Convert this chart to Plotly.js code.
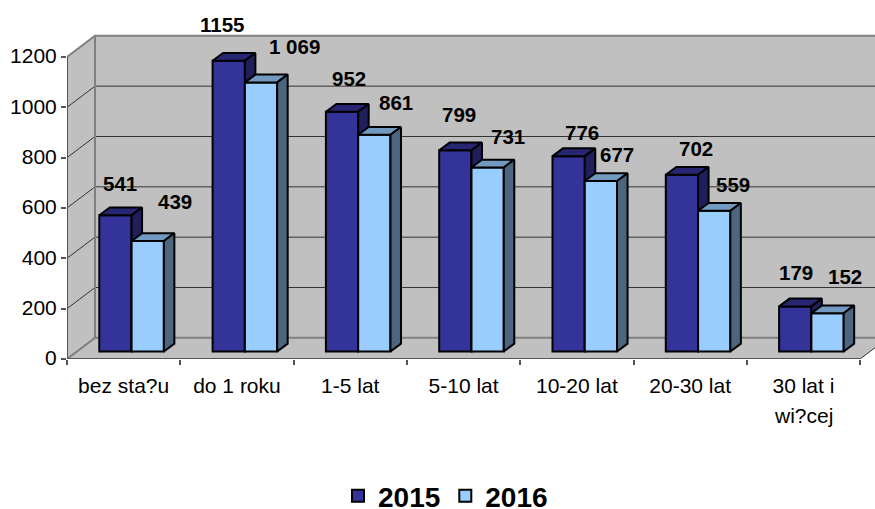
<!DOCTYPE html>
<html>
<head>
<meta charset="utf-8">
<script src="https://cdn.plot.ly/plotly-3.0.1.min.js"></script>
<style>html,body{margin:0;padding:0;background:#fff}#c{width:875px;height:509px}
.legend path.legendbar{d:path('M8,8H-8V-8H8Z')}</style>
</head>
<body>
<div id="c"></div>
<script>
// ---- data ----
const categories = ['bez sta?u', 'do 1 roku', '1-5 lat', '5-10 lat', '10-20 lat', '20-30 lat', '30 lat i'];
const categorySecondLine = 'wi?cej';
const values2015 = [541, 1155, 952, 799, 776, 702, 179];
const values2016 = [439, 1069, 861, 731, 677, 559, 152];
const labels2015 = ['541', '1155', '952', '799', '776', '702', '179'];
const labels2016 = ['439', '1 069', '861', '731', '677', '559', '152'];
const yTicks = [0, 200, 400, 600, 800, 1000, 1200];

// ---- pseudo-3D look (axis units) ----
const W = 875, H = 509, L = 67, B = 150;
const pxPerCat = 113.3, pxPerVal = 0.2517;
const plotH = H - B;
const xMax = (W - L) / pxPerCat, yMax = plotH / pxPerVal;
const wallDx = 28 / pxPerCat, wallDy = 84;
const barDx = 10.5 / pxPerCat, barDy = 31;
const barBase = 30, barW = 0.285, barStart = 0.285;
const nCat = categories.length;

// label offsets from the top-centre of each bar, px
const off2015 = [[5,32],[-7,36],[7,33],[4,36],[13,24],[14,26],[1,34]];
const off2016 = [[27,39],[33,36],[22,32],[20,31],[16,27],[19,26],[17,37]];

const COL = {wall:'#C0C0C0', edge:'#808080', grid:'#333333', axis:'#555555',
  f15:'#333399', t15:'#262673', s15:'#1F1F5C', f16:'#99CCFF', t16:'#7299BF', s16:'#4D6680'};

function poly(name, pts, fill, xa, ya){
  return {type:'scatter', mode:'lines', name, x:pts.map(p=>p[0]), y:pts.map(p=>p[1]),
    fill:'toself', fillcolor:fill, line:{width:0,color:fill}, hoverinfo:'skip', showlegend:false,
    xaxis:xa||'x', yaxis:ya||'y'};
}
function line(pts, color, width){
  return {type:'scatter', mode:'lines', x:pts.map(p=>p?p[0]:null), y:pts.map(p=>p?p[1]:null),
    line:{color, width}, hoverinfo:'skip', showlegend:false, xaxis:'x', yaxis:'y', connectgaps:false};
}
const xEnd = nCat, yTop = yTicks[yTicks.length-1];
const traces = [];
// walls and floor
traces.push(poly('back', [[wallDx,wallDy],[xMax+1,wallDy],[xMax+1,yTop+wallDy],[wallDx,yTop+wallDy],[wallDx,wallDy]], COL.wall));
traces.push(poly('side', [[0,0],[wallDx,wallDy],[wallDx,yTop+wallDy],[0,yTop],[0,0]], COL.wall));
traces.push(poly('floor', [[0,0],[xEnd,0],[xEnd+wallDx,wallDy],[wallDx,wallDy],[0,0]], COL.wall));
// gridlines
const gridPts = [];
yTicks.slice(1,-1).forEach(v=>{gridPts.push([0,v],[wallDx,v+wallDy],[xMax+1,v+wallDy],null);});
traces.push(line(gridPts, COL.grid, 1));
// wall edges
traces.push(line([[0,yTop],[wallDx,yTop+wallDy],[xMax+1,yTop+wallDy],null,
  [wallDx,yTop+wallDy],[wallDx,wallDy],[xMax+1,wallDy],null,[0,0],[wallDx,wallDy]], COL.edge, 2));
traces.push(line([[xEnd,0],[xEnd+wallDx,wallDy]], COL.grid, 1));
// axis lines
traces.push(line([[0,yTop],[0,0],[xEnd,0]], COL.axis, 2));

function series(name, vals, startX, front, top, side, xa, ya){
  const xs = vals.map((_,i)=>i+startX+barW/2);
  const topPts=[], sidePts=[];
  vals.forEach((v,i)=>{
    const x0=i+startX, x1=x0+barW, t=v+barBase;
    topPts.push([x0,t],[x1,t],[x1+barDx,t+barDy],[x0+barDx,t+barDy],[x0,t],[null,null]);
    sidePts.push([x1,t],[x1+barDx,t+barDy],[x1+barDx,barBase+barDy],[x1,barBase],[x1,t],[null,null]);
  });
  const face=(pts,c)=>({type:'scatter',mode:'lines',x:pts.map(p=>p[0]),y:pts.map(p=>p[1]),
    fill:'toself',fillcolor:c,line:{color:'#000',width:2},hoverinfo:'skip',showlegend:false,xaxis:xa,yaxis:ya});
  traces.push({type:'bar',name,x:xs,y:vals,base:vals.map(()=>barBase),width:barW,
    marker:{color:front,line:{color:'#000',width:2}},xaxis:xa,yaxis:ya});
  traces.push(face(topPts,top));
  traces.push(face(sidePts,side));
}
series('2015', values2015, barStart, COL.f15, COL.t15, COL.s15, 'x2', 'y2');
series('2016', values2016, barStart+barW, COL.f16, COL.t16, COL.s16, 'x3', 'y3');

// value labels
const annotations = [];
function addLabels(vals, labels, offs, startX){
  vals.forEach((v,i)=>annotations.push({xref:'x',yref:'y',x:i+startX+barW/2,y:v+barBase,
    text:'<b>'+labels[i]+'</b>',showarrow:false,xanchor:'center',yanchor:'middle',
    xshift:offs[i][0],yshift:offs[i][1],font:{family:'Liberation Sans',size:20.5,color:'#000'}}));
}
addLabels(values2015, labels2015, off2015, barStart);
addLabels(values2016, labels2016, off2016, barStart+barW);
annotations.push({xref:'x',yref:'paper',x:nCat-0.5,y:-(415-plotH)/plotH,text:categorySecondLine,showarrow:false,
  xanchor:'center',yanchor:'middle',font:{family:'Liberation Sans',size:21,color:'#000'}});

const hidden = {showgrid:false,zeroline:false,showline:false,showticklabels:false,ticks:''};
const layout = {
  width:W,height:H,margin:{l:L,r:0,t:0,b:B,autoexpand:false},
  paper_bgcolor:'#fff',plot_bgcolor:'#fff',barmode:'overlay',hovermode:'closest',
  font:{family:'Liberation Sans',size:20,color:'#000'},
  xaxis:{range:[0,xMax],showgrid:false,zeroline:false,showline:false,ticks:'',
    tickmode:'array',tickvals:categories.map((_,i)=>i+0.5),ticktext:categories,tickangle:0,
    ticklabelstandoff:12,tickfont:{size:21}},
  yaxis:{range:[0,yMax],showgrid:false,zeroline:false,showline:false,ticks:'outside',ticklen:5,tickwidth:1.5,tickcolor:COL.axis,
    tickmode:'array',tickvals:yTicks,ticklabelshift:-1,tickfont:{size:21}},
  xaxis2:Object.assign({},hidden,{overlaying:'x',anchor:'y2',range:[0,xMax],ticks:'outside',ticklen:5,tickwidth:1.5,tickcolor:COL.axis,
    tickmode:'array',tickvals:Array.from({length:nCat+1},(_,i)=>i)}),
  yaxis2:Object.assign({},hidden,{overlaying:'y',anchor:'x2',range:[0,yMax]}),
  xaxis3:Object.assign({},hidden,{overlaying:'x',anchor:'y3',range:[0,xMax]}),
  yaxis3:Object.assign({},hidden,{overlaying:'y',anchor:'x3',range:[0,yMax]}),
  showlegend:true,
  legend:{orientation:'h',x:(338-L)/(W-L),xanchor:'left',y:-(471-plotH)/plotH,yanchor:'top',
    font:{family:'Liberation Sans',size:28,weight:700,color:'#000'},
    bgcolor:'rgba(0,0,0,0)',itemclick:false,itemdoubleclick:false},
  annotations
};
Plotly.newPlot('c',traces,layout,{displayModeBar:false,responsive:false});
</script>
</body>
</html>
